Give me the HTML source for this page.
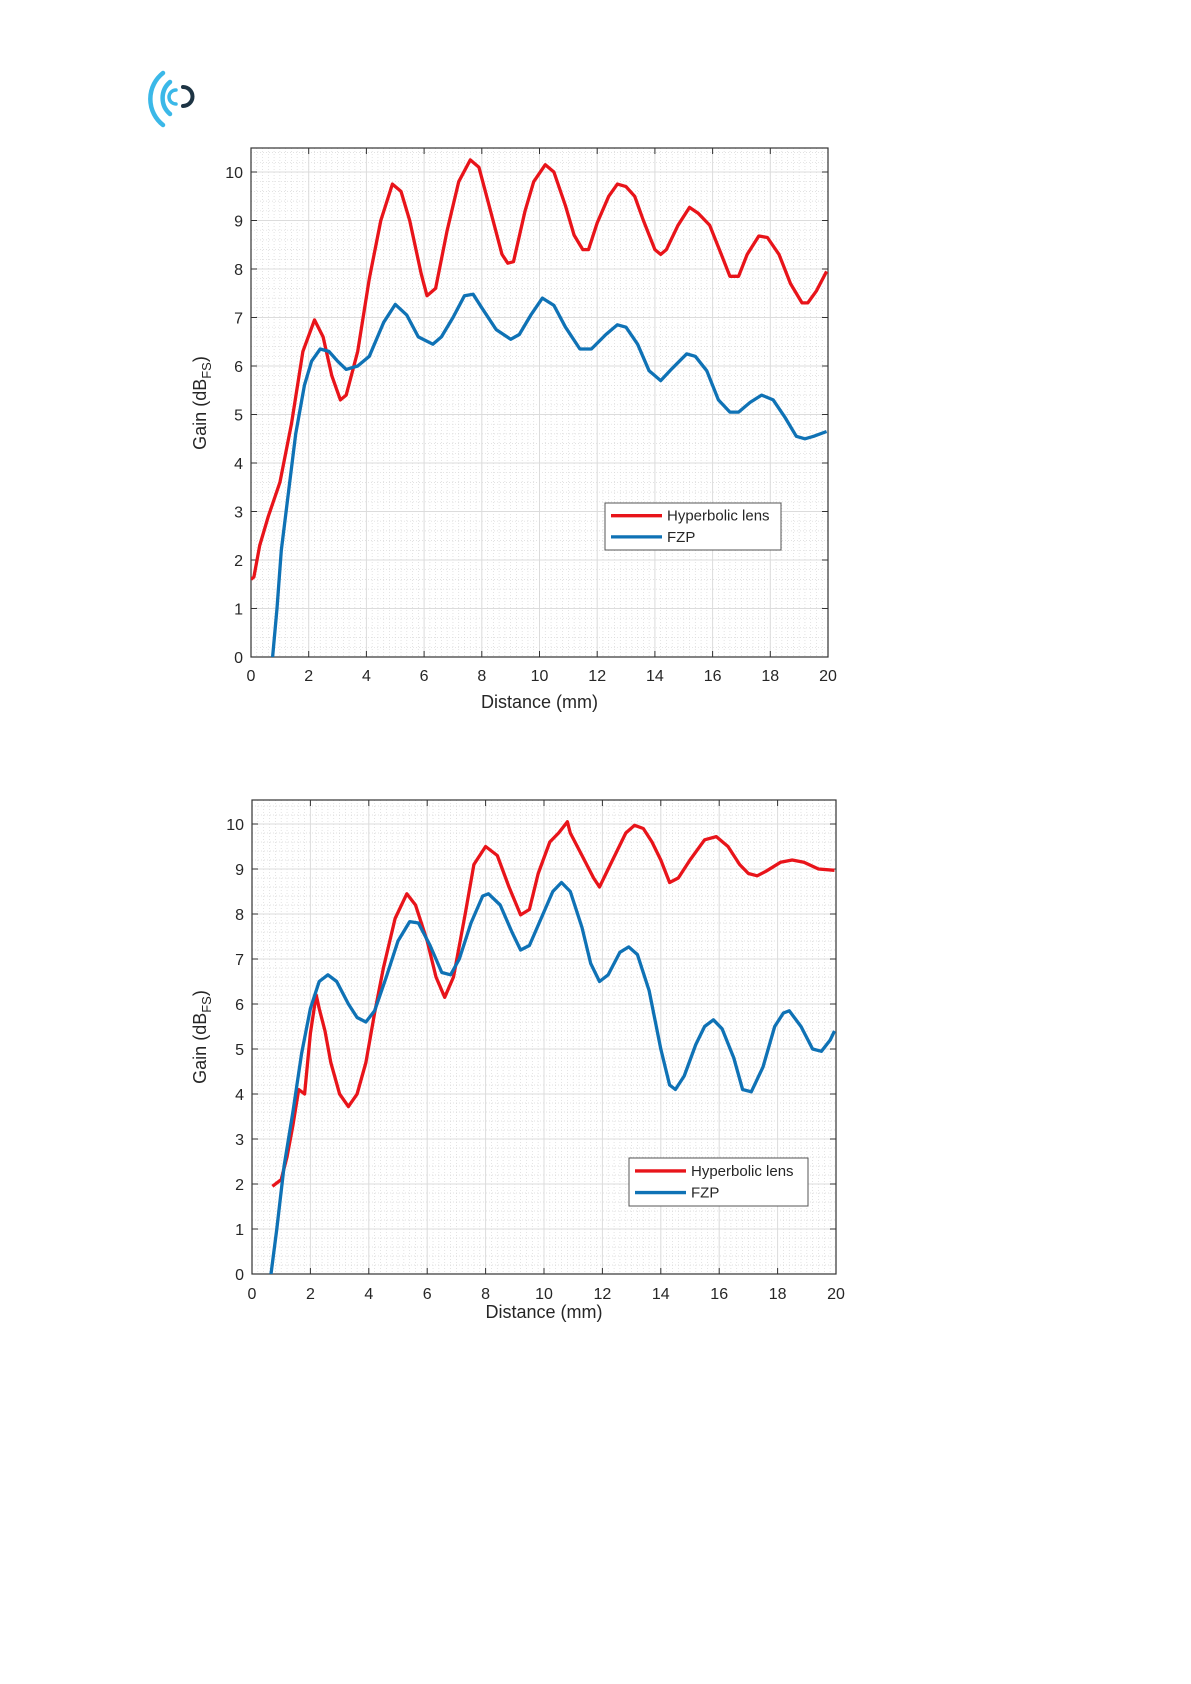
<!DOCTYPE html>
<html><head><meta charset="utf-8"><style>
html,body{margin:0;padding:0;background:#fff;}
svg{display:block;}
text{font-family:"Liberation Sans",sans-serif;fill:#262626;}
</style></head><body>
<svg id="s" width="1191" height="1684" viewBox="0 0 1191 1684" xmlns="http://www.w3.org/2000/svg">
<g fill="none" stroke-linecap="round">
<path d="M 163 73 A 33 33 0 0 0 163 125" stroke="#3bb8e8" stroke-width="4.5"/>
<path d="M 170 82 A 21 21 0 0 0 170 114" stroke="#3bb8e8" stroke-width="4.5"/>
<path d="M 176 90 A 7 7 0 0 0 176 104" stroke="#3bb8e8" stroke-width="3.5"/>
<path d="M 183 87 A 9 9 0 0 1 183 106" stroke="#1d3444" stroke-width="4"/>
</g>
</svg>
<script>
const NS="http://www.w3.org/2000/svg";const S=document.getElementById('s');
function el(t,a,p){const e=document.createElementNS(NS,t);for(const k in a)e.setAttribute(k,a[k]);(p||S).appendChild(e);return e;}
function chart(c){
 const {L,T,R,B,Y10}=c;const sx=(R-L)/20,sy=(B-Y10)/10;
 const X=x=>L+x*sx,Y=y=>B-y*sy;
 for(let i=0;i<=100;i++){const x=X(i*0.2);el('line',{x1:x,y1:T,x2:x,y2:B,stroke:'#d8d8d8','stroke-width':0.7,'stroke-dasharray':'1,2'});}
 for(let v=0;Y(v)>=T;v+=0.2){el('line',{x1:L,y1:Y(v),x2:R,y2:Y(v),stroke:'#d8d8d8','stroke-width':0.7,'stroke-dasharray':'1,2'});}
 for(let i=0;i<=10;i++){const x=X(i*2);el('line',{x1:x,y1:T,x2:x,y2:B,stroke:'#dcdcdc','stroke-width':1});
  el('line',{x1:x,y1:B,x2:x,y2:B-6,stroke:'#333'});el('line',{x1:x,y1:T,x2:x,y2:T+6,stroke:'#333'});
  const t=el('text',{x:x,y:c.XL,'font-size':16,'text-anchor':'middle'});t.textContent=i*2;}
 for(let v=0;v<=10;v++){const y=Y(v);el('line',{x1:L,y1:y,x2:R,y2:y,stroke:'#dcdcdc','stroke-width':1});
  el('line',{x1:L,y1:y,x2:L+6,y2:y,stroke:'#333'});el('line',{x1:R,y1:y,x2:R-6,y2:y,stroke:'#333'});
  const t=el('text',{x:L-8,y:y+6,'font-size':16,'text-anchor':'end'});t.textContent=v;}
 el('rect',{x:L,y:T,width:R-L,height:B-T,fill:'none',stroke:'#333','stroke-width':1.2});
 const cp=el('clipPath',{id:'c'+c.id});el('rect',{x:L,y:T,width:R-L,height:B-T},cp);
 for(const [pts,col] of [[c.red,'#e8141a'],[c.blue,'#0f72b5']]){
  el('polyline',{points:pts.map(p=>X(p[0]).toFixed(1)+','+Y(p[1]).toFixed(1)).join(' '),fill:'none',stroke:col,'stroke-width':3.3,'stroke-linejoin':'round','clip-path':'url(#c'+c.id+')'});}
 const t=el('text',{x:(L+R)/2,y:c.XT,'font-size':18,'text-anchor':'middle'});t.textContent='Distance (mm)';
 const g=el('text',{x:0,y:0,'font-size':18,'text-anchor':'middle',transform:`translate(${c.YX},${c.YC}) rotate(-90)`});
 g.innerHTML='Gain (dB<tspan font-size="13" dy="5">FS</tspan><tspan dy="-5">)</tspan>';
 const [lx,ly,lx2,ly2]=c.leg;el('rect',{x:lx,y:ly,width:lx2-lx,height:ly2-ly,fill:'#fff',stroke:'#555','stroke-width':1});
 const h=(ly2-ly);el('line',{x1:lx+6,y1:ly+h*0.27,x2:lx+57,y2:ly+h*0.27,stroke:'#e8141a','stroke-width':3.3});
 el('line',{x1:lx+6,y1:ly+h*0.72,x2:lx+57,y2:ly+h*0.72,stroke:'#0f72b5','stroke-width':3.3});
 let a=el('text',{x:lx+62,y:ly+h*0.27+5,'font-size':15});a.textContent='Hyperbolic lens';
 a=el('text',{x:lx+62,y:ly+h*0.72+5,'font-size':15});a.textContent='FZP';
}
chart({id:1,L:251,T:148,R:828,B:657,Y10:172,XL:681,XT:708,YX:206,YC:403,leg:[605,503,781,550],
red:[[0,1.6],[0.1,1.65],[0.3,2.3],[0.6,2.9],[1,3.6],[1.4,4.8],[1.8,6.3],[2.2,6.95],[2.5,6.6],[2.8,5.8],[3.1,5.3],[3.3,5.4],[3.7,6.3],[4.1,7.8],[4.5,9.0],[4.9,9.75],[5.2,9.6],[5.5,9.0],[5.9,7.9],[6.1,7.45],[6.4,7.6],[6.8,8.8],[7.2,9.8],[7.6,10.25],[7.9,10.1],[8.3,9.2],[8.7,8.3],[8.9,8.12],[9.1,8.15],[9.5,9.2],[9.8,9.8],[10.2,10.15],[10.5,10.0],[10.9,9.3],[11.2,8.7],[11.5,8.4],[11.7,8.4],[12.0,8.95],[12.4,9.5],[12.7,9.75],[13.0,9.7],[13.3,9.5],[13.6,9.0],[14.0,8.4],[14.2,8.3],[14.4,8.4],[14.8,8.9],[15.2,9.27],[15.5,9.15],[15.9,8.9],[16.3,8.3],[16.6,7.85],[16.9,7.85],[17.2,8.3],[17.6,8.68],[17.9,8.65],[18.3,8.3],[18.7,7.7],[19.1,7.3],[19.3,7.3],[19.6,7.55],[19.95,7.95]],
blue:[[0.75,0],[0.9,1],[1.05,2.2],[1.3,3.4],[1.55,4.6],[1.85,5.6],[2.1,6.1],[2.4,6.35],[2.7,6.3],[3.0,6.1],[3.3,5.93],[3.7,6.0],[4.1,6.2],[4.6,6.9],[5.0,7.27],[5.4,7.05],[5.8,6.6],[6.3,6.45],[6.6,6.6],[7.0,7.0],[7.4,7.45],[7.7,7.48],[8.0,7.2],[8.5,6.75],[9.0,6.55],[9.3,6.65],[9.7,7.05],[10.1,7.4],[10.5,7.25],[10.9,6.8],[11.4,6.35],[11.8,6.35],[12.3,6.65],[12.7,6.85],[13.0,6.8],[13.4,6.45],[13.8,5.9],[14.2,5.7],[14.6,5.95],[15.1,6.25],[15.4,6.2],[15.8,5.9],[16.2,5.3],[16.6,5.05],[16.9,5.05],[17.3,5.25],[17.7,5.4],[18.1,5.3],[18.5,4.95],[18.9,4.55],[19.2,4.5],[19.5,4.55],[19.95,4.65]]});
chart({id:2,L:252,T:800,R:836,B:1274,Y10:824,XL:1299,XT:1318,YX:206,YC:1037,leg:[629,1158,808,1206],
red:[[0.7,1.95],[0.9,2.05],[1.0,2.1],[1.2,2.6],[1.4,3.3],[1.6,4.1],[1.8,4.0],[2.0,5.35],[2.2,6.2],[2.3,5.9],[2.5,5.4],[2.7,4.7],[3.0,4.0],[3.3,3.72],[3.6,4.0],[3.9,4.7],[4.2,5.8],[4.5,6.8],[4.9,7.9],[5.3,8.45],[5.6,8.2],[6.0,7.4],[6.3,6.6],[6.6,6.15],[6.9,6.6],[7.3,8.0],[7.6,9.1],[8.0,9.5],[8.4,9.3],[8.8,8.6],[9.2,7.98],[9.5,8.1],[9.8,8.9],[10.2,9.6],[10.5,9.8],[10.8,10.05],[10.9,9.8],[11.3,9.3],[11.7,8.8],[11.9,8.6],[12.2,9.0],[12.5,9.4],[12.8,9.8],[13.1,9.97],[13.4,9.9],[13.7,9.6],[14.0,9.2],[14.3,8.7],[14.6,8.8],[15.0,9.2],[15.5,9.65],[15.9,9.72],[16.3,9.5],[16.7,9.1],[17.0,8.9],[17.3,8.85],[17.6,8.95],[18.1,9.15],[18.5,9.2],[18.9,9.15],[19.4,9.0],[19.95,8.97]],
blue:[[0.65,0],[0.85,1],[1.1,2.4],[1.4,3.6],[1.7,4.9],[2.0,5.9],[2.3,6.5],[2.6,6.65],[2.9,6.5],[3.3,6.0],[3.6,5.7],[3.9,5.6],[4.2,5.85],[4.6,6.6],[5.0,7.4],[5.4,7.83],[5.7,7.8],[6.1,7.3],[6.5,6.7],[6.8,6.65],[7.1,7.0],[7.5,7.8],[7.9,8.4],[8.1,8.45],[8.5,8.2],[8.9,7.6],[9.2,7.2],[9.5,7.3],[9.9,7.9],[10.3,8.5],[10.6,8.7],[10.9,8.5],[11.3,7.7],[11.6,6.9],[11.9,6.5],[12.2,6.65],[12.6,7.15],[12.9,7.27],[13.2,7.1],[13.6,6.3],[14.0,5.0],[14.3,4.2],[14.5,4.1],[14.8,4.4],[15.2,5.1],[15.5,5.5],[15.8,5.65],[16.1,5.45],[16.5,4.8],[16.8,4.1],[17.1,4.05],[17.5,4.6],[17.9,5.5],[18.2,5.8],[18.4,5.85],[18.8,5.5],[19.2,5.0],[19.5,4.95],[19.8,5.2],[19.95,5.4]]});
</script>
</body></html>
